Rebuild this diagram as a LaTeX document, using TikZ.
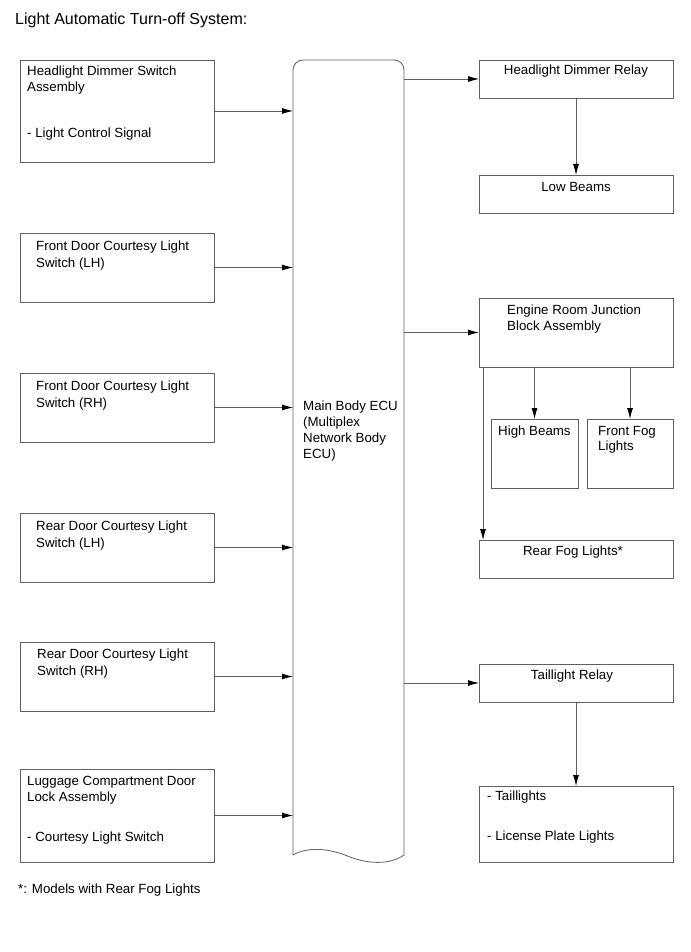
\documentclass[tikz,border=0pt]{standalone}
\usepackage{fontspec}
\setmainfont{Liberation Sans}
\usetikzlibrary{arrows.meta}
\definecolor{ln}{RGB}{95,95,95}
\begin{document}
\begin{tikzpicture}[x=1pt,y=-1pt,
  box/.style={draw=ln, line width=0.8pt, anchor=north west, inner sep=0pt, outer sep=0pt},
  txt/.style={anchor=base west, inner sep=0pt, font=\fontsize{13.3}{16}\selectfont},
  ctxt/.style={anchor=base, inner sep=0pt, font=\fontsize{13.3}{16}\selectfont},
  conn/.style={draw=ln, line width=0.8pt, -{Latex[length=11pt,width=6pt,color=black]}},
  plain/.style={draw=ln, line width=0.8pt}]
\useasboundingbox (0,0) rectangle (690,952);

% title and footnote
\node[anchor=base west, inner sep=0pt, font=\fontsize{16}{19}\selectfont] (title) at (15,25) {Light Automatic Turn-off System:};
\node[txt] (foot) at (18,893) {*: Models with Rear Fog Lights};

% left boxes
\node[box, minimum width=194pt, minimum height=102pt] (b1) at (20,60) {};
\node[box, minimum width=194pt, minimum height=69pt] (b2) at (20,233) {};
\node[box, minimum width=194pt, minimum height=69pt] (b3) at (20,373) {};
\node[box, minimum width=194pt, minimum height=69pt] (b4) at (20,513) {};
\node[box, minimum width=194pt, minimum height=69pt] (b5) at (20,642) {};
\node[box, minimum width=194pt, minimum height=93pt] (b6) at (20,769) {};

\node[txt] (t1a) at (27,76) {Headlight Dimmer Switch};
\node[txt] (t1b) at (27,92) {Assembly};
\node[txt] (t1c) at (27,138) {- Light Control Signal};
\node[txt] (t2a) at (36,250) {Front Door Courtesy Light};
\node[txt] (t2b) at (36,267) {Switch (LH)};
\node[txt] (t3a) at (36,390) {Front Door Courtesy Light};
\node[txt] (t3b) at (36,407) {Switch (RH)};
\node[txt] (t4a) at (36,530) {Rear Door Courtesy Light};
\node[txt] (t4b) at (36,547) {Switch (LH)};
\node[txt] (t5a) at (37,658) {Rear Door Courtesy Light};
\node[txt] (t5b) at (37,675) {Switch (RH)};
\node[txt] (t6a) at (27,785) {Luggage Compartment Door};
\node[txt] (t6b) at (27,801) {Lock Assembly};
\node[txt] (t6c) at (27,841) {- Courtesy Light Switch};

% ECU
\node[anchor=north west, inner sep=0pt, outer sep=0pt, minimum width=111pt, minimum height=802pt] (ecu) at (293,60) {};
\draw[plain] (ecu.west |- 0,855) -- ([yshift=-10pt]ecu.north west)
  arc[start angle=180, end angle=90, radius=10pt]
  -- ([xshift=-10pt]ecu.north east)
  arc[start angle=90, end angle=0, radius=10pt]
  -- (ecu.east |- 0,855)
  .. controls (388,866) and (366,863) .. (350,857)
  .. controls (334,850) and (310,845) .. (ecu.west |- 0,855);
\node[txt] (e1) at (303,410) {Main Body ECU};
\node[txt] (e2) at (303,426) {(Multiplex};
\node[txt] (e3) at (303,442) {Network Body};
\node[txt] (e4) at (303,458) {ECU)};

% right boxes
\node[box, minimum width=194pt, minimum height=38pt] (r1) at (479,60) {};
\node[box, minimum width=194pt, minimum height=38pt] (r2) at (479,175) {};
\node[box, minimum width=194pt, minimum height=69pt] (r3) at (479,298) {};
\node[box, minimum width=87pt, minimum height=69pt] (r4) at (491,419) {};
\node[box, minimum width=86pt, minimum height=69pt] (r5) at (587,419) {};
\node[box, minimum width=194pt, minimum height=38pt] (r6) at (479,540) {};
\node[box, minimum width=194pt, minimum height=38pt] (r7) at (479,664) {};
\node[box, minimum width=194pt, minimum height=76pt] (r8) at (479,786) {};

\node[ctxt] (s1) at (576,75) {Headlight Dimmer Relay};
\node[ctxt] (s2) at (576,191) {Low Beams};
\node[txt] (s3a) at (507,314) {Engine Room Junction};
\node[txt] (s3b) at (507,330) {Block Assembly};
\node[txt] (s4) at (498,435) {High Beams};
\node[txt] (s5a) at (598,435) {Front Fog};
\node[txt] (s5b) at (598,450) {Lights};
\node[ctxt] (s6) at (573,555) {Rear Fog Lights*};
\node[ctxt] (s7) at (572,679) {Taillight Relay};
\node[txt] (s8a) at (487,800) {- Taillights};
\node[txt] (s8b) at (487,840) {- License Plate Lights};

% connectors left -> ECU
\foreach \b in {b1,b2,b3,b4,b5,b6}
  \draw[conn] (\b.east) -- (\b.east -| ecu.west);

% ECU -> right
\foreach \r in {r1,r3,r7}
  \draw[conn] (\r.west -| ecu.east) -- (\r.west);

\draw[conn] (r1.south) -- (r2.north);
\draw[conn] (r7.south) -- (r8.north);
\draw[conn] (r4.north |- r3.south) -- (r4.north);
\draw[conn] (r5.north |- r3.south) -- (r5.north);
\coordinate (rf) at ([xshift=4pt]r3.south west);
\draw[conn] (rf) -- (rf |- r6.north);
\end{tikzpicture}
\end{document}
